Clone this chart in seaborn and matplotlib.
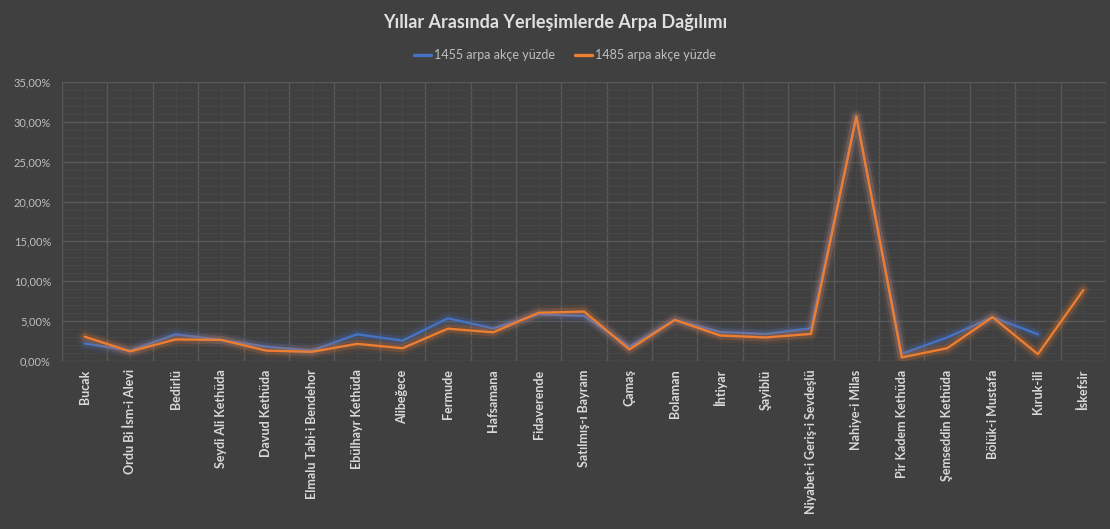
import numpy as np
import pandas as pd
import matplotlib
matplotlib.use("Agg")
import matplotlib.pyplot as plt
import matplotlib.patheffects as pe
from matplotlib.ticker import MultipleLocator, FuncFormatter
import seaborn as sns

# data (percent)
villages = ["Bucak", "Ordu Bi İsm-i Alevi", "Bedirlü", "Seydi Ali Kethüda",
            "Davud Kethüda", "Elmalu Tabi-i Bendehor", "Ebülhayr Kethüda",
            "Alibeğece", "Fermude", "Hafsamana", "Fidaverende",
            "Satılmış-ı Bayram", "Çamaş", "Bolaman", "İhtiyar", "Şayiblü",
            "Niyabet-i Geriş-i Sevdeşlü", "Nahiye-i Milas", "Pir Kadem Kethüda",
            "Şemseddin Kethüda", "Bölük-i Mustafa", "Kıruk-ili", "İskefsir"]
arpa_1455 = [2.2, 1.3, 3.35, 2.65, 1.8, 1.3, 3.35, 2.55, 5.35, 4.1, 5.85,
             5.65, 1.8, 5.15, 3.65, 3.4, 4.1, 30.6, 0.9, 2.95, 5.5, 3.35, np.nan]
arpa_1485 = [3.05, 1.2, 2.7, 2.65, 1.3, 1.15, 2.15, 1.6, 4.05, 3.6, 6.05,
             6.2, 1.45, 5.15, 3.2, 2.95, 3.4, 30.7, 0.45, 1.6, 5.5, 0.85, 8.9]
series_names = ["1455 arpa akçe yüzde", "1485 arpa akçe yüzde"]
colors = ["#4472C4", "#ED7D31"]

df = pd.DataFrame({
    "pos": list(range(len(villages))) * 2,
    "value": arpa_1455 + arpa_1485,
    "series": [series_names[0]] * len(villages) + [series_names[1]] * len(villages),
})

bg = "#404040"
sns.set_style("dark")
plt.rcParams["font.family"] = ["Lato", "DejaVu Sans"]

fig = plt.figure(figsize=(11.1, 5.29), dpi=100)
fig.patch.set_facecolor(bg)
ax = fig.add_axes([0.0559, 0.3176, 0.9405, 0.5274])
ax.set_facecolor(bg)

sns.lineplot(data=df, x="pos", y="value", hue="series", palette=colors,
             linewidth=1.7, ax=ax, legend=False, sort=False)

# soft glow like the excel style
for line, c in zip(ax.get_lines(), colors):
    line.set_path_effects([
        pe.Stroke(linewidth=10, foreground=c, alpha=0.08),
        pe.Stroke(linewidth=6, foreground=c, alpha=0.2),
        pe.Normal(),
    ])

ax.set_xlim(-0.5, len(villages) - 0.5)
ax.set_ylim(0, 35)
ax.set_xticks(range(len(villages)))
ax.set_xticklabels(villages, rotation=90, fontsize=9, fontweight="bold",
                   color="#d9d9d9")
ax.xaxis.set_minor_locator(MultipleLocator(1, offset=0.5))
ax.yaxis.set_major_locator(MultipleLocator(5))
ax.yaxis.set_minor_locator(MultipleLocator(1))
ax.yaxis.set_major_formatter(FuncFormatter(lambda v, p: f"{v:.2f}%".replace(".", ",")))
ax.tick_params(axis="y", labelsize=8, colors="#bfbfbf", length=0, pad=8)
ax.tick_params(axis="x", length=0, pad=6)
ax.tick_params(which="minor", length=0)

ax.grid(False)
ax.grid(True, axis="y", which="major", color="#595959", linewidth=1)
ax.grid(True, axis="y", which="minor", color="#474747", linewidth=0.8)
ax.grid(True, axis="x", which="minor", color="#595959", linewidth=1)
ax.grid(True, axis="x", which="major", color="#474747", linewidth=0.8)
ax.set_axisbelow(True)
for s in ax.spines.values():
    s.set_visible(False)
ax.set_xlabel("")
ax.set_ylabel("")

handles = [plt.Line2D([], [], color=c, linewidth=2.4) for c in colors]
fig.legend(handles, series_names, loc="center", bbox_to_anchor=(0.509, 0.896),
           ncol=2, frameon=False, fontsize=9, labelcolor="#bfbfbf",
           handlelength=1.4, handletextpad=0.2, columnspacing=1.6)

fig.suptitle("Yıllar Arasında Yerleşimlerde Arpa Dağılımı", y=0.958,
             fontsize=13, fontweight="bold", color="#e0e0e0", va="center")

fig.savefig("out.png", dpi=100, facecolor=bg)
